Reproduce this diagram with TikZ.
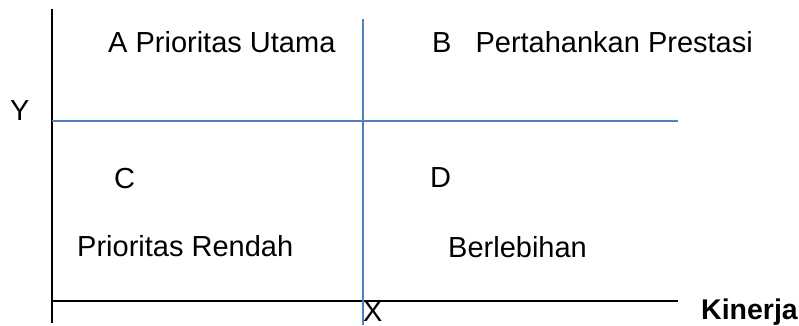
\documentclass[tikz,border=0pt]{standalone}
\usepackage{fontspec}
\setmainfont{Liberation Sans}
\definecolor{axisblue}{HTML}{4F81BD}
\tikzset{
  lbl/.style={anchor=base west, inner sep=0pt, font=\fontsize{29}{34}\selectfont},
  axisline/.style={line width=1.3pt, black},
  divline/.style={line width=1.3pt, axisblue},
}
\begin{document}
\begin{tikzpicture}[x=1pt, y=-1pt]
\useasboundingbox (0,0) rectangle (799,326);

% axes
\coordinate (ytop) at (52,9);
\coordinate (ybot) at (52,323);
\coordinate (xleft) at (52,301);
\coordinate (xright) at (678,301);
\draw[axisline] (ytop) -- (ybot);
\draw[axisline] (xleft) -- (xright);

% quadrant dividers
\coordinate (vtop) at (363,19);
\coordinate (vbot) at (363,325);
\coordinate (hleft) at (52,121);
\coordinate (hright) at (678,121);
\draw[divline] (vtop) -- (vbot);
\draw[divline] (hleft) -- (hright);

% quadrant labels
\node[lbl] (qa) at (108,53) {A Prioritas Utama};
\node[lbl] (qb) at (432,53) {B\hspace{24pt}Pertahankan Prestasi};
\node[lbl] (qc) at (114,188) {C};
\node[lbl] (qcname) at (77,256) {Prioritas Rendah};
\node[lbl] (qd) at (430,187) {D};
\node[lbl] (qdname) at (448,257) {Berlebihan};

% axis labels
\node[lbl] (ylab) at (10,120) {Y};
\node[lbl, text depth=0pt] (xlab) at (363,321) {X};
\node[lbl, font=\fontsize{28.5}{34}\selectfont\bfseries] (perf) at (701,319) {Kinerja};
\end{tikzpicture}
\end{document}
